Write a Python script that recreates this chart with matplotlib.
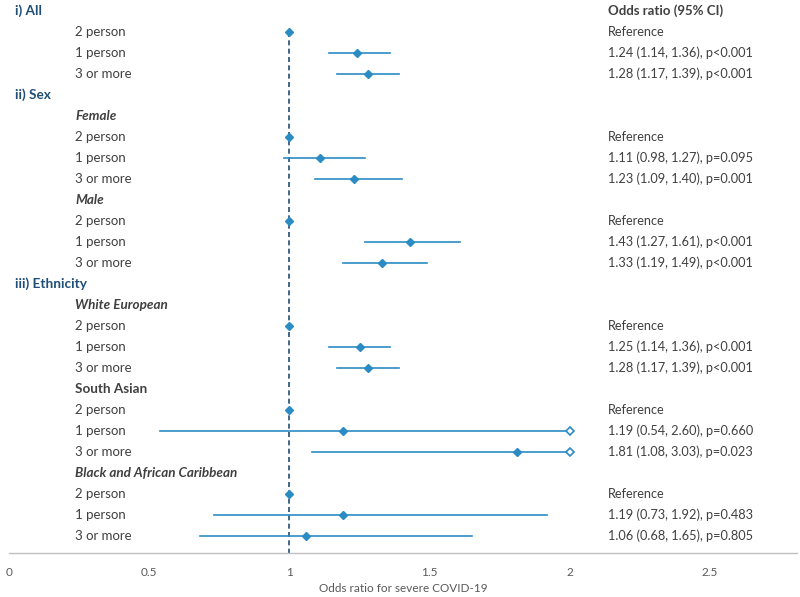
import numpy as np
import matplotlib
matplotlib.use("Agg")
import matplotlib.pyplot as plt

plt.rcParams['font.family'] = ['Lato', 'DejaVu Sans']

# rows top to bottom: (label, kind)  kind: h=section header, g=subgroup, gi=italic subgroup, r=data row
labels = ["i) All", "2 person", "1 person", "3 or more",
          "ii) Sex", "Female", "2 person", "1 person", "3 or more",
          "Male", "2 person", "1 person", "3 or more",
          "iii) Ethnicity", "White European", "2 person", "1 person", "3 or more",
          "South Asian", "2 person", "1 person", "3 or more",
          "Black and African Caribbean", "2 person", "1 person", "3 or more"]
kinds = ["h", "r", "r", "r",
         "h", "gi", "r", "r", "r",
         "gi", "r", "r", "r",
         "h", "gi", "r", "r", "r",
         "g", "r", "r", "r",
         "gi", "r", "r", "r"]

# odds ratios per data row (None = reference)
odds = [1.0, 1.24, 1.28,
        1.0, 1.11, 1.23,
        1.0, 1.43, 1.33,
        1.0, 1.25, 1.28,
        1.0, 1.19, 1.81,
        1.0, 1.19, 1.06]
lower = [None, 1.14, 1.17,
         None, 0.98, 1.09,
         None, 1.27, 1.19,
         None, 1.14, 1.17,
         None, 0.54, 1.08,
         None, 0.73, 0.68]
upper = [None, 1.36, 1.39,
         None, 1.27, 1.40,
         None, 1.61, 1.49,
         None, 1.36, 1.39,
         None, 2.60, 3.03,
         None, 1.92, 1.65]
pvals = [None, "<0.001", "<0.001",
         None, "=0.095", "=0.001",
         None, "<0.001", "<0.001",
         None, "<0.001", "<0.001",
         None, "=0.660", "=0.023",
         None, "=0.483", "=0.805"]

x_ticks = [0, 0.5, 1, 1.5, 2, 2.5]
x_tick_labels = ["0", "0.5", "1", "1.5", "2", "2.5"]
x_clip = 2.0

blue = "#2b8cc4"
navy = "#1f4e79"
grey = "#404040"

fig = plt.figure(figsize=(8, 5.97), dpi=100)
ax = fig.add_axes([9 / 800, 44 / 597, 788 / 800, 553 / 597])
ax.set_xlim(0, 788 / 280.4)
n = len(labels)
ax.set_ylim(n - 1 + 17.5 / 21, -11 / 21)

data_rows = [i for i, k in enumerate(kinds) if k == "r"]

# reference line
ax.plot([1, 1], [data_rows[0], ax.get_ylim()[0]], color=navy, lw=1.2, ls=(0, (3, 2)), zorder=1)

for j, row in enumerate(data_rows):
    if lower[j] is not None:
        hi = min(upper[j], x_clip)
        ax.plot([lower[j], hi], [row, row], color=blue, lw=1.2, zorder=2)
        if upper[j] > x_clip:
            ax.plot(hi, row, marker="D", ms=4, mfc="white", mec=blue, mew=1.2, zorder=3)
    ax.plot(odds[j], row, marker="D", ms=4.5, color=blue, zorder=3)
    if lower[j] is None:
        txt = "Reference"
    else:
        txt = f"{odds[j]:.2f} ({lower[j]:.2f}, {upper[j]:.2f}), p{pvals[j]}"
    ax.text(0.7605, row, txt, transform=ax.get_yaxis_transform(), va="center",
            ha="left", fontsize=9.2, color=grey)

ax.text(0.7605, 0, "Odds ratio (95% CI)", transform=ax.get_yaxis_transform(),
        va="center", ha="left", fontsize=9.5, color=grey, fontweight="bold")

for i, (lab, k) in enumerate(zip(labels, kinds)):
    tr = ax.get_yaxis_transform()
    if k == "h":
        ax.text(0.007, i, lab, transform=tr, va="center", ha="left", fontsize=9.8,
                color=navy, fontweight="bold")
    elif k == "gi":
        ax.text(0.084, i, lab, transform=tr, va="center", ha="left", fontsize=9.7,
                color=grey, fontweight="bold", fontstyle="italic")
    elif k == "g":
        ax.text(0.084, i, lab, transform=tr, va="center", ha="left", fontsize=9.7,
                color=grey, fontweight="bold")
    else:
        ax.text(0.084, i, lab, transform=tr, va="center", ha="left", fontsize=9.5,
                color=grey)

for s in ["top", "left", "right"]:
    ax.spines[s].set_visible(False)
ax.spines["bottom"].set_color("#bfbfbf")
ax.spines["bottom"].set_linewidth(1.0)
ax.set_yticks([])
ax.set_xticks(x_ticks)
ax.set_xticklabels(x_tick_labels, fontsize=8.5, color="#595959")
ax.tick_params(axis="x", length=0, pad=10)
ax.set_xlabel("Odds ratio for severe COVID-19", fontsize=8.5, color="#595959", labelpad=4)

fig.savefig("out.png", dpi=100)
